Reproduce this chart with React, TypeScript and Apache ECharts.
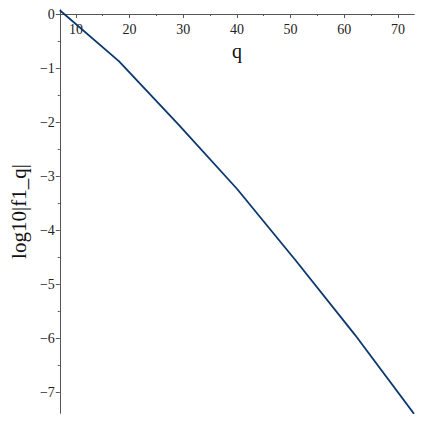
import React, { useEffect, useRef } from "react";
import * as echarts from "echarts";

const qValues = [7, 18, 29, 40, 51, 62, 73];
const logValues = [0.07, -0.87, -2.03, -3.23, -4.56, -5.93, -7.39];
const xMajorTicks = [10, 20, 30, 40, 50, 60, 70];
const xMinorTicks = [15, 25, 35, 45, 55, 65];
const yMajorTicks = [0, -1, -2, -3, -4, -5, -6, -7];
const yMinorTicks = [-0.5, -1.5, -2.5, -3.5, -4.5, -5.5, -6.5];

const fmt = (v: number) => (v < 0 ? "\u2212" + Math.abs(v) : String(v));
const serif = "Liberation Serif";
const axisColor = "#555555";

const Y_MIN = -7.375;
const Y_MAX = 0.074;
const GRID_TOP = 10;
const GRID_BOTTOM = 10;
const H = 423;

export default function App() {
  const ref = useRef<HTMLDivElement>(null);
  useEffect(() => {
    if (!ref.current) return;
    const chart = echarts.init(ref.current, undefined, { renderer: "svg" });
    const plotH = H - GRID_TOP - GRID_BOTTOM;
    const zeroFromBottom = ((0 - Y_MIN) / (Y_MAX - Y_MIN)) * plotH;
    const xOffset = -Math.round(zeroFromBottom);
    const labelStyle = {
      fontFamily: serif,
      fontSize: 14,
      fontStyle: "normal" as const,
      fontWeight: "normal" as const,
      color: "#222",
    };
    const xBase = {
      type: "value" as const,
      min: 7,
      max: 73,
      position: "bottom" as const,
      offset: xOffset,
      splitLine: { show: false },
      axisLine: { show: true, onZero: false, lineStyle: { color: axisColor, width: 1 } },
    };
    const yBase = {
      type: "value" as const,
      min: Y_MIN,
      max: Y_MAX,
      position: "left" as const,
      splitLine: { show: false },
      axisLine: { show: true, onZero: false, lineStyle: { color: axisColor, width: 1 } },
    };
    chart.setOption({
      animation: false,
      textStyle: { fontFamily: serif },
      grid: { left: 57, right: 9, top: GRID_TOP, bottom: GRID_BOTTOM, containLabel: false },
      xAxis: [
        {
          ...xBase,
          name: "q",
          nameLocation: "middle",
          nameGap: 24,
          nameTextStyle: { fontFamily: serif, fontSize: 20, color: "#111" },
          axisTick: { show: true, customValues: xMajorTicks, length: 4, lineStyle: { color: axisColor } },
          axisLabel: {
            show: true,
            customValues: xMajorTicks,
            margin: 8,
            ...labelStyle,
            formatter: (v: number) => fmt(v),
          },
        },
        {
          ...xBase,
          axisTick: { show: true, customValues: xMinorTicks, length: 2, lineStyle: { color: axisColor } },
          axisLabel: { show: false },
        },
      ],
      yAxis: [
        {
          ...yBase,
          name: "log10|f1_q|",
          nameLocation: "middle",
          nameGap: 29,
          nameTextStyle: { fontFamily: serif, fontSize: 21, color: "#111" },
          axisTick: { show: true, customValues: yMajorTicks, length: 4, lineStyle: { color: axisColor } },
          axisLabel: {
            show: true,
            customValues: yMajorTicks,
            margin: 5,
            ...labelStyle,
            formatter: (v: number) => fmt(v),
          },
        },
        {
          ...yBase,
          axisTick: { show: true, customValues: yMinorTicks, length: 2, lineStyle: { color: axisColor } },
          axisLabel: { show: false },
        },
      ],
      series: [
        {
          type: "line",
          xAxisIndex: 0,
          yAxisIndex: 0,
          data: qValues.map((q, i) => [q, logValues[i]]),
          showSymbol: false,
          lineStyle: { color: "#0b376f", width: 1.8 },
        },
      ],
    });
    return () => chart.dispose();
  }, []);
  return (
    <div
      ref={ref}
      style={{ position: "fixed", left: 0, top: 0, width: 423, height: 423, background: "#fff" }}
    />
  );
}
